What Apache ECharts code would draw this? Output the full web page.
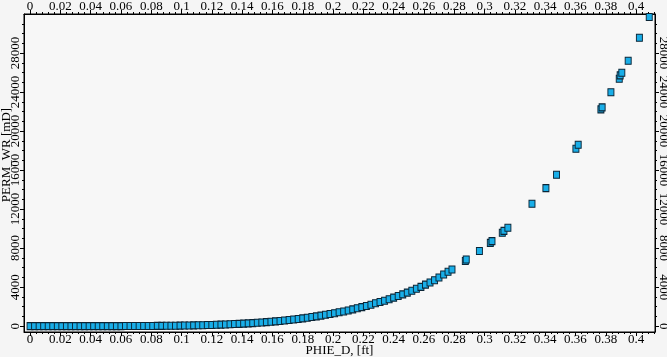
<!DOCTYPE html>
<html>
<head>
<meta charset="utf-8">
<script src="https://cdn.jsdelivr.net/npm/echarts@6/dist/echarts.min.js"></script>
<style>
html,body{margin:0;padding:0;background:#f5f5f5;}
#c{width:667px;height:357px;}
</style>
</head>
<body>
<div id="c"></div>
<script>
// PHIE_D values (x) and PERM_WR values (y)
const phie = [
0.000,0.003,0.006,0.009,0.012,0.015,0.018,0.021,0.024,0.027,
0.030,0.033,0.036,0.039,0.042,0.045,0.048,0.051,0.054,0.057,
0.060,0.063,0.066,0.069,0.072,0.075,0.078,0.081,0.084,0.087,
0.090,0.093,0.096,0.099,0.102,0.105,0.108,0.111,0.114,0.117,
0.120,0.123,0.126,0.129,0.132,0.135,0.138,0.141,0.144,0.147,
0.150,0.153,0.156,0.159,0.162,0.165,0.168,0.171,0.174,0.177,
0.180,0.183,0.186,0.189,0.192,0.195,0.198,0.201,0.204,0.207,
0.210,0.213,0.216,0.219,0.222,0.225,0.228,0.231,0.234,0.237,
0.240,0.243,0.246,0.249,0.252,0.255,0.258,0.261,0.264,0.267,
0.2699,0.2730,0.2759,0.2785,0.2873,0.2879,0.2966,0.3038,0.3049,0.3117,
0.3128,0.3154,0.3313,0.3405,0.3475,0.3603,0.3618,0.3768,0.3776,0.3834,
0.3889,0.3895,0.3906,0.3948,0.4022,0.4087
];
const perm = [
0,0,0,0,0,0,0,0,0,0,
0,1,1,1,1,2,2,3,4,5,
6,7,9,11,13,15,18,21,25,29,
34,39,45,52,60,68,78,88,99,111,
125,140,156,173,192,213,235,259,285,312,
350,380,415,450,490,535,580,630,685,740,
800,865,930,1000,1080,1160,1240,1330,1420,1510,
1610,1720,1840,1950,2070,2200,2340,2470,2610,2760,
2920,3090,3260,3440,3630,3830,4030,4260,4480,4700,
4990,5300,5570,5810,6670,6840,7700,8540,8720,9570,
9770,10080,12550,14150,15520,18190,18600,22220,22430,23970,
25370,25710,25980,27210,29570,31690
];
const xTickLabels = [0,0.02,0.04,0.06,0.08,0.1,0.12,0.14,0.16,0.18,0.2,0.22,0.24,0.26,0.28,0.3,0.32,0.34,0.36,0.38,0.4];
const yTickLabels = [0,4000,8000,12000,16000,20000,24000,28000];
const xMinor = [];
for (let i = 0; i <= 103; i++) xMinor.push(+(i * 0.004).toFixed(3));
const yMinor = [];
for (let i = 0; i <= 31; i++) yMinor.push(i * 1000);

const font = 'Liberation Serif';
const lbl = {color:'#000', fontFamily:font, fontSize:13};
const X_MIN = -0.004, X_MAX = 0.4125, Y_MIN = -600, Y_MAX = 32000;

function xAxisDef(pos, major, showLine) {
  return {
    type:'value', position:pos, min:X_MIN, max:X_MAX,
    axisLine:{show:showLine, onZero:false, lineStyle:{color:'#000', width:1}},
    axisTick:{show:true, inside:false, length: major?4:2, customValues: major?xTickLabels:xMinor, lineStyle:{color:'#000'}},
    axisLabel: major ? Object.assign({show:true, margin:1, customValues:xTickLabels, formatter: v => String(+v.toFixed(3))}, lbl) : {show:false},
    splitLine:{show:false}
  };
}
function yAxisDef(pos, major, showLine) {
  return {
    type:'value', position:pos, min:Y_MIN, max:Y_MAX,
    axisLine:{show:showLine, onZero:false, lineStyle:{color:'#000', width:1}},
    axisTick:{show:true, inside:false, length: major?4:2, customValues: major?yTickLabels:yMinor, lineStyle:{color:'#000'}},
    axisLabel: major ? Object.assign({show:true, margin:2, rotate: pos==='left'?90:-90, customValues:yTickLabels, formatter: v => String(v)}, lbl) : {show:false},
    splitLine:{show:false}
  };
}

const xb = xAxisDef('bottom', true, true);
xb.name = 'PHIE_D, [ft]';
xb.nameLocation = 'middle';
xb.nameGap = 12;
xb.nameMoveOverlap = false;
xb.nameTextStyle = {color:'#000', fontFamily:font, fontSize:13, verticalAlign:'top'};
const yl = yAxisDef('left', true, true);
yl.name = 'PERM_WR [mD]';
yl.nameLocation = 'middle';
yl.nameGap = 11;
yl.nameMoveOverlap = false;
yl.nameTextStyle = {color:'#000', fontFamily:font, fontSize:13, padding:[0,0,0,36]};

const chart = echarts.init(document.getElementById('c'), null, {renderer:'canvas'});
chart.setOption({
  backgroundColor:'#f5f5f5',
  animation:false,
  grid:{left:24, right:12, top:14, bottom:25, containLabel:false, outerBoundsMode:'none', show:true, borderColor:'#000', borderWidth:1, backgroundColor:'#f7f7f7'},
  xAxis:[xb, xAxisDef('top', true, true), xAxisDef('bottom', false, false), xAxisDef('top', false, false)],
  yAxis:[yl, yAxisDef('right', true, true), yAxisDef('left', false, false), yAxisDef('right', false, false)],
  series:[{
    type:'scatter',
    xAxisIndex:0, yAxisIndex:0,
    symbol:'rect',
    symbolSize:[6,7],
    itemStyle:{color:'#19aee8', borderColor:'#0b2536', borderWidth:1, opacity:1},
    data: phie.map((x,i)=>[x, perm[i]])
  }]
});
</script>
</body>
</html>
